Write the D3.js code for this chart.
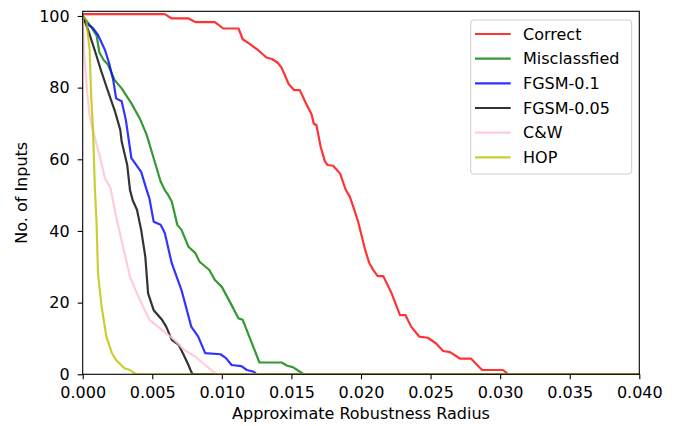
<!DOCTYPE html>
<html>
<head>
<meta charset="utf-8">
<script src="https://cdn.jsdelivr.net/npm/d3@7"></script>
<style>
  html, body { margin: 0; padding: 0; background: #fff; }
  svg { display: block; font-family: "DejaVu Sans", sans-serif; }
</style>
</head>
<body>
<svg id="chart" width="685" height="426"></svg>
<script>
// ---- Data ----
const seriesNames = ["Correct", "Misclassfied", "FGSM-0.1", "FGSM-0.05", "C&W", "HOP"];
const seriesColors = ["#ff0000", "#008000", "#0000ff", "#000000", "#ffc0cb", "#bfbf00"];

const correct = [[0,100.5],[0.0059,100.5],[0.0064,99.3],[0.0076,99.3],[0.0081,98.3],[0.0095,98.3],[0.0101,96.5],[0.0112,96.5],[0.0115,93.5],[0.0120,92.2],[0.0126,90.5],[0.0132,88.4],[0.0136,88],[0.0140,87],[0.0143,85.5],[0.0148,81],[0.0152,79.3],[0.0156,79.3],[0.0160,76],[0.01645,72.5],[0.0166,70],[0.0168,69.5],[0.0171,63.5],[0.0174,59.5],[0.0176,58.4],[0.0180,58.2],[0.0185,56],[0.0189,51.5],[0.0192,49.5],[0.0194,47.3],[0.0198,42.5],[0.0203,34.7],[0.0206,31],[0.0209,29],[0.0212,27.4],[0.0216,27.4],[0.0222,22.6],[0.0228,16.5],[0.0232,16.5],[0.0236,13.3],[0.0242,10.5],[0.0248,10.2],[0.0254,8.6],[0.0259,6.5],[0.0264,6.2],[0.0271,4.4],[0.0279,4.4],[0.0287,1.2],[0.0302,1.2],[0.0306,0],[0.04,0]];
const misclassified = [[0,100],[0.0006,97],[0.001,94.5],[0.0012,89.8],[0.0015,87.7],[0.0018,86.5],[0.0023,82.1],[0.0028,79.8],[0.0031,78],[0.0035,75.6],[0.0041,71.4],[0.0046,66.8],[0.0051,60.3],[0.0056,53.8],[0.0059,51.4],[0.0061,50.3],[0.0064,48.2],[0.0068,41.7],[0.0071,40.3],[0.0076,35.6],[0.0081,33.8],[0.0084,31.4],[0.0091,29.1],[0.0095,26.3],[0.0100,24.4],[0.0107,19.3],[0.0112,15.6],[0.0115,15.2],[0.0127,3.3],[0.0143,3.3],[0.0147,2.4],[0.0151,2],[0.0157,0.5],[0.0159,0],[0.04,0]];
const fgsm01 = [[0,100],[0.0004,97.5],[0.00074,96.6],[0.0011,94.7],[0.0016,90.5],[0.0019,86.8],[0.0022,82],[0.0024,77],[0.0028,76.2],[0.0031,71],[0.0035,60.3],[0.0042,56.5],[0.0046,51.4],[0.0048,49],[0.0051,42.6],[0.0056,41.7],[0.0059,39.4],[0.0064,31],[0.0071,23.5],[0.0078,13.3],[0.0083,10.5],[0.0088,5.9],[0.0099,5.6],[0.0103,4.5],[0.0107,2.6],[0.0114,2.3],[0.0118,1.2],[0.0123,0.7],[0.0125,0],[0.04,0]];
const fgsm005 = [[0,100],[0.0004,96],[0.00086,90.5],[0.0013,85],[0.0018,79.2],[0.0023,73.6],[0.0027,68.2],[0.0028,65],[0.0032,58.4],[0.0034,51.4],[0.0036,48.5],[0.0039,45.9],[0.0042,40.3],[0.0045,32.8],[0.0047,22.6],[0.0051,17.9],[0.0057,15.2],[0.0060,13.3],[0.0064,9.6],[0.0069,8.2],[0.0072,5.9],[0.0076,2.6],[0.0078,0.7],[0.0079,0],[0.04,0]];
const cw = [[0,100],[0.0001,90],[0.0002,84.5],[0.00033,78.4],[0.0005,72],[0.00076,67.7],[0.0012,61.2],[0.0016,54.7],[0.002,52],[0.0024,44],[0.0029,35.6],[0.0034,27.2],[0.0039,22.6],[0.0044,18.4],[0.0048,15.2],[0.0054,13.3],[0.0060,11.4],[0.0066,9.6],[0.0073,6.8],[0.0081,4.9],[0.0088,2.6],[0.0094,0.7],[0.0096,0],[0.04,0]];
const hop = [[0,100],[0.00026,98.9],[0.0005,90.5],[0.0006,78.4],[0.00074,68.2],[0.00088,51.4],[0.001,42.1],[0.0011,28.2],[0.00136,18.9],[0.0017,10.5],[0.0021,5.9],[0.0024,4],[0.003,1.7],[0.0034,1.2],[0.0037,0.3],[0.0039,0],[0.04,0]];
const seriesData = [correct, misclassified, fgsm01, fgsm005, cw, hop];

const xTicks = [0, 0.005, 0.010, 0.015, 0.020, 0.025, 0.030, 0.035, 0.040];
const yTicks = [0, 20, 40, 60, 80, 100];
const xLabel = "Approximate Robustness Radius";
const yLabel = "No. of Inputs";

// ---- Layout ----
const W = 685, H = 426;
const plot = { left: 82.7, right: 639.3, top: 11.3, bottom: 374.3 };
const FS = 16;

const svg = d3.select("#chart");
const x = d3.scaleLinear().domain([0, 0.040]).range([plot.left, plot.right]);
const y = d3.scaleLinear().domain([0, 101.3]).range([plot.bottom, plot.top]);

svg.append("defs").append("clipPath").attr("id", "clip")
  .append("rect")
  .attr("x", plot.left).attr("y", plot.top)
  .attr("width", plot.right - plot.left).attr("height", plot.bottom - plot.top);

const line = d3.line().x(d => x(d[0])).y(d => y(d[1]));

const gLines = svg.append("g").attr("clip-path", "url(#clip)");
seriesData.forEach((data, i) => {
  gLines.append("path")
    .datum(data)
    .attr("d", line)
    .attr("fill", "none")
    .attr("stroke", seriesColors[i])
    .attr("stroke-opacity", 0.8)
    .attr("stroke-width", 2.2)
    .attr("stroke-linejoin", "round")
    .attr("stroke-linecap", "butt");
});

// Axes
const xAxis = d3.axisBottom(x).tickValues(xTicks).tickFormat(d3.format(".3f")).tickSize(5).tickPadding(7.5);
const yAxis = d3.axisLeft(y).tickValues(yTicks).tickFormat(d3.format("d")).tickSize(5).tickPadding(8);

const gx = svg.append("g").attr("transform", `translate(0,${plot.bottom})`).call(xAxis);
const gy = svg.append("g").attr("transform", `translate(${plot.left},0)`).call(yAxis);
[gx, gy].forEach(g => {
  g.select(".domain").remove();
  g.selectAll(".tick line").attr("stroke", "#000").attr("stroke-width", 1.1);
  g.selectAll(".tick text").attr("fill", "#000").style("font-size", FS + "px").style("font-family", "DejaVu Sans");
});

// Spines
svg.append("rect")
  .attr("x", plot.left).attr("y", plot.top)
  .attr("width", plot.right - plot.left).attr("height", plot.bottom - plot.top)
  .attr("fill", "none").attr("stroke", "#000").attr("stroke-width", 1.1);

// Axis labels
svg.append("text")
  .attr("x", (plot.left + plot.right) / 2).attr("y", 419)
  .attr("text-anchor", "middle").style("font-size", FS + "px")
  .text(xLabel);
svg.append("text")
  .attr("transform", `translate(26.5,${(plot.top + plot.bottom) / 2}) rotate(-90)`)
  .attr("text-anchor", "middle").style("font-size", FS + "px")
  .text(yLabel);

// Legend
const leg = svg.append("g");
leg.append("rect")
  .attr("x", 470.7).attr("y", 20).attr("width", 161).attr("height", 154)
  .attr("rx", 3).attr("ry", 3)
  .attr("fill", "#fff").attr("fill-opacity", 0.8)
  .attr("stroke", "#cccccc").attr("stroke-width", 1);
const rowY = d3.scaleLinear().domain([0, 5]).range([34, 157.3]);
seriesNames.forEach((name, i) => {
  const yy = rowY(i);
  leg.append("line")
    .attr("x1", 475).attr("x2", 510.7).attr("y1", yy).attr("y2", yy)
    .attr("stroke", seriesColors[i]).attr("stroke-opacity", 0.8).attr("stroke-width", 2.2);
  leg.append("text")
    .attr("x", 523).attr("y", yy).attr("dy", "0.36em")
    .style("font-size", FS + "px").attr("fill", "#000")
    .text(name);
});
</script>
</body>
</html>
